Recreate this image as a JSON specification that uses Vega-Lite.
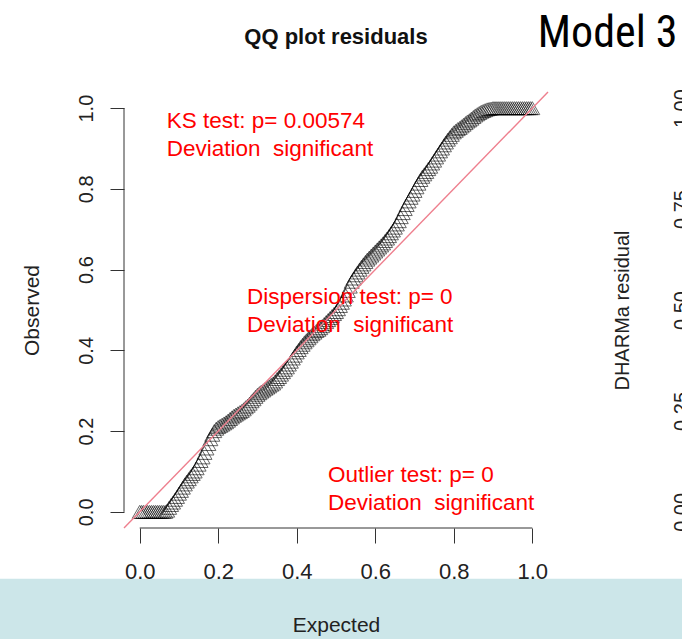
{
  "$schema": "https://vega.github.io/schema/vega-lite/v6.json",
  "autosize": {"type": "none"},
  "width": 424,
  "height": 436,
  "padding": {"left": 124, "top": 92, "right": 134, "bottom": 111},
  "background": "white",
  "config": {"view": {"stroke": null}, "font": "Liberation Sans"},
  "datasets": {
    "band": [{"x1": -0.5, "x2": 1.6, "y1": -0.166, "y2": -0.45}],
    "frame": [
      {"x1": -0.04, "x2": -0.04, "y1": 0, "y2": 1},
      {"x1": 0, "x2": 1, "y1": -0.04, "y2": -0.04}
    ],
    "diag": [{"a": -0.04, "b": 1.04}],
    "notes": [
      {"label": "KS test: p= 0.00574\nDeviation\u00a0 significant", "x": 0.069, "y": 0.9505},
      {"label": "Dispersion test: p= 0\nDeviation\u00a0 significant", "x": 0.273, "y": 0.515},
      {"label": "Outlier test: p= 0\nDeviation\u00a0 significant", "x": 0.4796, "y": 0.0743}
    ],
    "title": [{"label": "QQ plot residuals", "x": 0.5, "y": 1.158}],
    "model": [{"label": "Model 3", "x": 1.37, "y": 1.151}],
    "qq": [
      {"e":0.000,"o":0.000},{"e":0.005,"o":0.000},{"e":0.010,"o":0.000},{"e":0.015,"o":0.000},{"e":0.020,"o":0.000},
      {"e":0.025,"o":0.000},{"e":0.030,"o":0.000},{"e":0.035,"o":0.000},{"e":0.040,"o":0.000},{"e":0.045,"o":0.000},
      {"e":0.050,"o":0.000},{"e":0.055,"o":0.000},{"e":0.060,"o":0.000},{"e":0.065,"o":0.000},{"e":0.070,"o":0.003},
      {"e":0.075,"o":0.010},{"e":0.080,"o":0.017},{"e":0.085,"o":0.023},{"e":0.090,"o":0.030},{"e":0.095,"o":0.037},
      {"e":0.100,"o":0.045},{"e":0.105,"o":0.052},{"e":0.110,"o":0.060},{"e":0.115,"o":0.068},{"e":0.120,"o":0.075},
      {"e":0.125,"o":0.081},{"e":0.130,"o":0.088},{"e":0.135,"o":0.094},{"e":0.140,"o":0.100},{"e":0.145,"o":0.108},
      {"e":0.150,"o":0.117},{"e":0.155,"o":0.126},{"e":0.160,"o":0.135},{"e":0.165,"o":0.146},{"e":0.170,"o":0.157},
      {"e":0.175,"o":0.168},{"e":0.180,"o":0.180},{"e":0.185,"o":0.191},{"e":0.190,"o":0.200},{"e":0.195,"o":0.206},
      {"e":0.200,"o":0.210},{"e":0.205,"o":0.213},{"e":0.210,"o":0.216},{"e":0.215,"o":0.219},{"e":0.220,"o":0.222},
      {"e":0.225,"o":0.226},{"e":0.230,"o":0.230},{"e":0.235,"o":0.234},{"e":0.240,"o":0.238},{"e":0.245,"o":0.241},
      {"e":0.250,"o":0.244},{"e":0.255,"o":0.247},{"e":0.260,"o":0.250},{"e":0.265,"o":0.254},{"e":0.270,"o":0.259},
      {"e":0.275,"o":0.263},{"e":0.280,"o":0.268},{"e":0.285,"o":0.274},{"e":0.290,"o":0.279},{"e":0.295,"o":0.285},
      {"e":0.300,"o":0.290},{"e":0.305,"o":0.294},{"e":0.310,"o":0.298},{"e":0.315,"o":0.301},{"e":0.320,"o":0.305},
      {"e":0.325,"o":0.308},{"e":0.330,"o":0.311},{"e":0.335,"o":0.315},{"e":0.340,"o":0.318},{"e":0.345,"o":0.323},
      {"e":0.350,"o":0.329},{"e":0.355,"o":0.334},{"e":0.360,"o":0.340},{"e":0.365,"o":0.346},{"e":0.370,"o":0.352},
      {"e":0.375,"o":0.358},{"e":0.380,"o":0.365},{"e":0.385,"o":0.372},{"e":0.390,"o":0.380},{"e":0.395,"o":0.387},
      {"e":0.400,"o":0.395},{"e":0.405,"o":0.401},{"e":0.410,"o":0.408},{"e":0.415,"o":0.414},{"e":0.420,"o":0.420},
      {"e":0.425,"o":0.425},{"e":0.430,"o":0.430},{"e":0.435,"o":0.435},{"e":0.440,"o":0.440},{"e":0.445,"o":0.444},
      {"e":0.450,"o":0.448},{"e":0.455,"o":0.451},{"e":0.460,"o":0.455},{"e":0.465,"o":0.460},{"e":0.470,"o":0.465},
      {"e":0.475,"o":0.470},{"e":0.480,"o":0.475},{"e":0.485,"o":0.480},{"e":0.490,"o":0.485},{"e":0.495,"o":0.490},
      {"e":0.500,"o":0.495},{"e":0.505,"o":0.502},{"e":0.510,"o":0.510},{"e":0.515,"o":0.518},{"e":0.520,"o":0.526},
      {"e":0.525,"o":0.536},{"e":0.530,"o":0.547},{"e":0.535,"o":0.558},{"e":0.540,"o":0.570},{"e":0.545,"o":0.578},
      {"e":0.550,"o":0.586},{"e":0.555,"o":0.593},{"e":0.560,"o":0.600},{"e":0.565,"o":0.607},{"e":0.570,"o":0.613},
      {"e":0.575,"o":0.619},{"e":0.580,"o":0.625},{"e":0.585,"o":0.630},{"e":0.590,"o":0.635},{"e":0.595,"o":0.640},
      {"e":0.600,"o":0.645},{"e":0.605,"o":0.650},{"e":0.610,"o":0.655},{"e":0.615,"o":0.660},{"e":0.620,"o":0.665},
      {"e":0.625,"o":0.671},{"e":0.630,"o":0.677},{"e":0.635,"o":0.683},{"e":0.640,"o":0.690},{"e":0.645,"o":0.697},
      {"e":0.650,"o":0.704},{"e":0.655,"o":0.712},{"e":0.660,"o":0.720},{"e":0.665,"o":0.730},{"e":0.670,"o":0.740},
      {"e":0.675,"o":0.750},{"e":0.680,"o":0.760},{"e":0.685,"o":0.769},{"e":0.690,"o":0.778},{"e":0.695,"o":0.786},
      {"e":0.700,"o":0.795},{"e":0.705,"o":0.804},{"e":0.710,"o":0.813},{"e":0.715,"o":0.822},{"e":0.720,"o":0.830},
      {"e":0.725,"o":0.836},{"e":0.730,"o":0.842},{"e":0.735,"o":0.849},{"e":0.740,"o":0.855},{"e":0.745,"o":0.863},
      {"e":0.750,"o":0.870},{"e":0.755,"o":0.878},{"e":0.760,"o":0.885},{"e":0.765,"o":0.893},{"e":0.770,"o":0.900},
      {"e":0.775,"o":0.908},{"e":0.780,"o":0.915},{"e":0.785,"o":0.922},{"e":0.790,"o":0.928},{"e":0.795,"o":0.934},
      {"e":0.800,"o":0.940},{"e":0.805,"o":0.944},{"e":0.810,"o":0.948},{"e":0.815,"o":0.951},{"e":0.820,"o":0.955},
      {"e":0.825,"o":0.959},{"e":0.830,"o":0.963},{"e":0.835,"o":0.967},{"e":0.840,"o":0.970},{"e":0.845,"o":0.974},
      {"e":0.850,"o":0.978},{"e":0.855,"o":0.982},{"e":0.860,"o":0.985},{"e":0.865,"o":0.988},{"e":0.870,"o":0.991},
      {"e":0.875,"o":0.993},{"e":0.880,"o":0.995},{"e":0.885,"o":0.997},{"e":0.890,"o":0.998},{"e":0.895,"o":0.999},
      {"e":0.900,"o":1.000},{"e":0.905,"o":1.000},{"e":0.910,"o":1.000},{"e":0.915,"o":1.000},{"e":0.920,"o":1.000},
      {"e":0.925,"o":1.000},{"e":0.930,"o":1.000},{"e":0.935,"o":1.000},{"e":0.940,"o":1.000},{"e":0.945,"o":1.000},
      {"e":0.950,"o":1.000},{"e":0.955,"o":1.000},{"e":0.960,"o":1.000},{"e":0.965,"o":1.000},{"e":0.970,"o":1.000},
      {"e":0.975,"o":1.000},{"e":0.980,"o":1.000},{"e":0.985,"o":1.000},{"e":0.990,"o":1.000},{"e":0.995,"o":1.000},
      {"e":1.000,"o":1.000}
    ]
  },
  "layer": [
    {
      "data": {"name": "band"},
      "mark": {"type": "rect", "color": "#cce6e9", "clip": false},
      "encoding": {
        "x": {"field": "x1", "type": "quantitative", "scale": {"domain": [-0.04, 1.04], "nice": false, "zero": false}, "axis": null},
        "x2": {"field": "x2"},
        "y": {"field": "y1", "type": "quantitative", "scale": {"domain": [-0.04, 1.04], "nice": false, "zero": false}, "axis": null},
        "y2": {"field": "y2"}
      }
    },
    {
      "data": {"name": "frame"},
      "mark": {"type": "rule", "color": "#333333", "strokeWidth": 1, "clip": false},
      "encoding": {
        "x": {"field": "x1", "type": "quantitative", "scale": {"domain": [-0.04, 1.04], "nice": false, "zero": false}, "axis": null},
        "x2": {"field": "x2"},
        "y": {"field": "y1", "type": "quantitative", "scale": {"domain": [-0.04, 1.04], "nice": false, "zero": false}, "axis": null},
        "y2": {"field": "y2"}
      }
    },
    {
      "data": {"name": "qq"},
      "mark": {"type": "point", "shape": "triangle-up", "filled": false, "size": 225, "strokeWidth": 1, "color": "#000000", "opacity": 0.6, "clip": false},
      "encoding": {
        "x": {
          "field": "e", "type": "quantitative",
          "scale": {"domain": [-0.04, 1.04], "nice": false, "zero": false},
          "axis": {
            "orient": "bottom", "values": [0, 0.2, 0.4, 0.6, 0.8, 1], "format": ".1f", "domain": false, "grid": false,
            "ticks": true, "tickSize": 15, "tickColor": "#333333", "tickWidth": 1,
            "labelPadding": 35, "labelFontSize": 22, "labelBaseline": "alphabetic", "labelAlign": "center",
            "labelAngle": 0, "labelColor": "#222222", "labelFlush": false, "labelOverlap": false,
            "title": "Expected", "titleFontSize": 21, "titleFontWeight": "normal", "titleColor": "#222222",
            "titleBaseline": "alphabetic", "titleAlign": "center", "titleX": 212, "titleY": 103, "zindex": 1
          }
        },
        "y": {
          "field": "o", "type": "quantitative",
          "scale": {"domain": [-0.04, 1.04], "nice": false, "zero": false},
          "axis": {
            "orient": "left", "values": [0, 0.2, 0.4, 0.6, 0.8, 1], "format": ".1f", "domain": false, "grid": false,
            "tickSize": 14, "tickColor": "#333333", "tickWidth": 1,
            "labelPadding": 18, "labelFontSize": 20, "labelAngle": 270, "labelAlign": "center",
            "labelBaseline": "alphabetic", "labelColor": "#222222", "labelFlush": false, "labelOverlap": false,
            "title": "Observed", "titleFontSize": 21, "titleFontWeight": "normal", "titleAngle": 270,
            "titleX": -86, "titleY": 218, "titleAlign": "center", "titleBaseline": "alphabetic", "titleColor": "#222222"
          }
        }
      }
    },
    {
      "data": {"name": "diag"},
      "mark": {"type": "rule", "color": "#ee7f8e", "strokeWidth": 1.4, "clip": false},
      "encoding": {
        "x": {"field": "a", "type": "quantitative", "scale": {"domain": [-0.04, 1.04], "nice": false, "zero": false}, "axis": null},
        "x2": {"field": "b"},
        "y": {
          "field": "a", "type": "quantitative",
          "scale": {"domain": [-0.04, 1.04], "nice": false, "zero": false},
          "axis": {
            "orient": "right", "values": [0, 0.25, 0.5, 0.75, 1], "format": ".2f", "domain": false, "grid": false,
            "ticks": false, "labelPadding": 139, "labelFontSize": 20, "labelAngle": 270, "labelAlign": "center",
            "labelBaseline": "alphabetic", "labelColor": "#222222", "labelFlush": false, "labelOverlap": false,
            "title": "DHARMa residual", "titleFontSize": 20, "titleFontWeight": "normal", "titleAngle": 270,
            "titleX": 80, "titleY": 218, "titleAlign": "center", "titleBaseline": "alphabetic", "titleColor": "#222222"
          }
        },
        "y2": {"field": "b"}
      }
    },
    {
      "data": {"name": "notes"},
      "mark": {"type": "text", "align": "left", "baseline": "alphabetic", "color": "#ff0000", "fontSize": 22.5, "lineBreak": "\n", "lineHeight": 28, "clip": false},
      "encoding": {
        "x": {"field": "x", "type": "quantitative", "scale": {"domain": [-0.04, 1.04], "nice": false, "zero": false}, "axis": null},
        "y": {"field": "y", "type": "quantitative", "scale": {"domain": [-0.04, 1.04], "nice": false, "zero": false}, "axis": null},
        "text": {"field": "label"}
      }
    },
    {
      "data": {"name": "title"},
      "mark": {"type": "text", "align": "center", "baseline": "alphabetic", "color": "#111111", "fontSize": 22, "fontWeight": "bold", "clip": false},
      "encoding": {
        "x": {"field": "x", "type": "quantitative", "scale": {"domain": [-0.04, 1.04], "nice": false, "zero": false}, "axis": null},
        "y": {"field": "y", "type": "quantitative", "scale": {"domain": [-0.04, 1.04], "nice": false, "zero": false}, "axis": null},
        "text": {"field": "label"}
      }
    },
    {
      "data": {"name": "model"},
      "mark": {"type": "text", "align": "right", "baseline": "alphabetic", "color": "#000000", "fontSize": 44, "font": "Liberation Sans Narrow, Roboto Condensed, Liberation Sans", "clip": false},
      "encoding": {
        "x": {"field": "x", "type": "quantitative", "scale": {"domain": [-0.04, 1.04], "nice": false, "zero": false}, "axis": null},
        "y": {"field": "y", "type": "quantitative", "scale": {"domain": [-0.04, 1.04], "nice": false, "zero": false}, "axis": null},
        "text": {"field": "label"}
      }
    }
  ],
  "resolve": {"axis": {"x": "independent", "y": "independent"}}
}
